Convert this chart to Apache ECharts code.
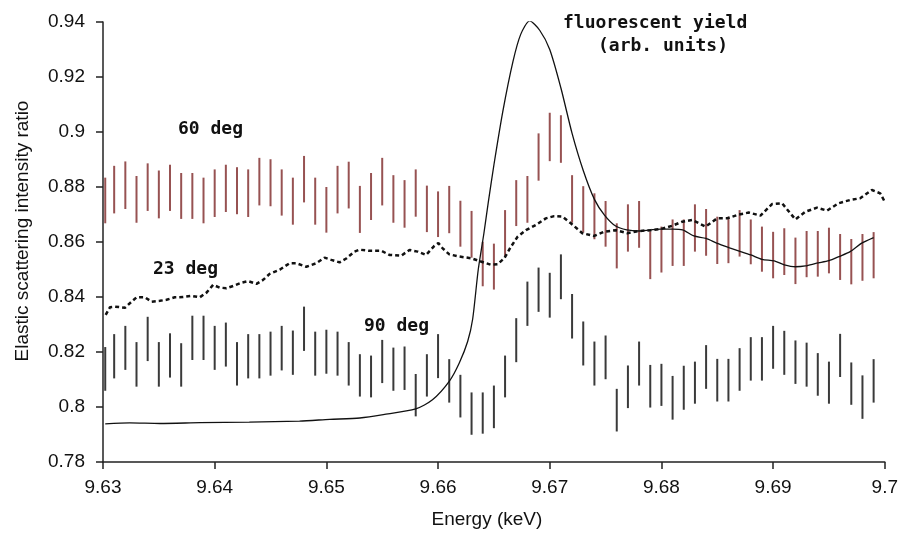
<!DOCTYPE html>
<html>
<head>
    <meta charset="utf-8"/>
    <title></title>
    <script src="https://cdn.jsdelivr.net/npm/echarts@6/dist/echarts.min.js"></script>
    <style>
        html, body { margin: 0; padding: 0; background: #fff; }
        #main { width: 901px; height: 540px; }
    </style>
</head>
<body>
<div id="main"></div>
<script type="text/javascript">
    /* energies of the error bars (keV) */
    var energy = [9.6302, 9.631, 9.632, 9.633, 9.634, 9.635, 9.636, 9.637, 9.638, 9.639,
        9.640, 9.641, 9.642, 9.643, 9.644, 9.645, 9.646, 9.647, 9.648, 9.649,
        9.650, 9.651, 9.652, 9.653, 9.654, 9.655, 9.656, 9.657, 9.658, 9.659,
        9.660, 9.661, 9.662, 9.663, 9.664, 9.665, 9.666, 9.667, 9.668, 9.669,
        9.670, 9.671, 9.672, 9.673, 9.674, 9.675, 9.676, 9.677, 9.678, 9.679,
        9.680, 9.681, 9.682, 9.683, 9.684, 9.685, 9.686, 9.687, 9.688, 9.689,
        9.690, 9.691, 9.692, 9.693, 9.694, 9.695, 9.696, 9.697, 9.698, 9.699];

    /* 60 deg: upper / lower end of each bar */
    var hi60 = [.8834, .8877, .8893, .8840, .8886, .8860, .8881, .8851, .8851, .8834,
        .8864, .8881, .8872, .8864, .8906, .8901, .8864, .8834, .8913, .8834,
        .8800, .8877, .8892, .8804, .8851, .8906, .8843, .8825, .8864, .8805,
        .8784, .8804, .8750, .8713, .8601, .8594, .8716, .8825, .8840, .8995,
        .9070, .9061, .8843, .8803, .8777, .8749, .8668, .8737, .8749, .8639,
        .8656, .8682, .8682, .8737, .8720, .8692, .8692, .8716, .8682, .8656,
        .8637, .8650, .8616, .8640, .8640, .8652, .8629, .8611, .8629, .8636];
    var lo60 = [.8668, .8704, .8720, .8670, .8713, .8686, .8713, .8684, .8684, .8668,
        .8691, .8709, .8701, .8691, .8733, .8730, .8696, .8663, .8744, .8663,
        .8634, .8704, .8722, .8633, .8680, .8733, .8670, .8652, .8692, .8636,
        .8618, .8632, .8583, .8543, .8439, .8427, .8547, .8658, .8670, .8823,
        .8894, .8888, .8670, .8634, .8610, .8583, .8504, .8565, .8579, .8465,
        .8489, .8513, .8513, .8565, .8550, .8520, .8523, .8547, .8519, .8492,
        .8468, .8480, .8447, .8472, .8474, .8486, .8462, .8446, .8459, .8468];

    /* 90 deg */
    var hi90 = [.8218, .8265, .8295, .8236, .8328, .8236, .8268, .8232, .8332, .8332,
        .8295, .8307, .8236, .8265, .8265, .8274, .8295, .8278, .8365, .8274,
        .8281, .8274, .8236, .8192, .8187, .8244, .8216, .8220, .8120, .8192,
        .8265, .8174, .8117, .8053, .8053, .8078, .8187, .8323, .8456, .8507,
        .8488, .8555, .8411, .8311, .8238, .8260, .8066, .8151, .8238, .8153,
        .8157, .8113, .8150, .8165, .8225, .8175, .8175, .8214, .8254, .8254,
        .8295, .8277, .8242, .8234, .8196, .8165, .8266, .8162, .8115, .8174];
    var lo90 = [.8059, .8104, .8135, .8074, .8167, .8074, .8107, .8074, .8171, .8171,
        .8135, .8147, .8078, .8104, .8104, .8114, .8133, .8117, .8204, .8114,
        .8121, .8114, .8078, .8038, .8035, .8087, .8059, .8062, .7966, .8038,
        .8105, .8016, .7962, .7899, .7903, .7923, .8035, .8163, .8295, .8346,
        .8325, .8392, .8249, .8151, .8078, .8101, .7911, .7996, .8078, .7998,
        .8004, .7954, .7990, .8012, .8066, .8020, .8020, .8059, .8096, .8096,
        .8139, .8117, .8084, .8074, .8041, .8012, .8109, .8008, .7957, .8016];

    /* 23 deg (dotted line) */
    var e23 = [9.63024, 9.63063, 9.63107, 9.63197, 9.63256, 9.63301, 9.63375, 9.63435, 9.63509, 9.63569,
        9.63643, 9.63718, 9.63793, 9.63867, 9.63927, 9.63986, 9.64046, 9.64105, 9.64165, 9.6424,
        9.64299, 9.64374, 9.64433, 9.64492, 9.64582, 9.64671, 9.64731, 9.6482, 9.6491, 9.64984,
        9.65044, 9.65118, 9.65178, 9.65252, 9.65297, 9.65386, 9.65491, 9.65565, 9.65669, 9.65744,
        9.65818, 9.65893, 9.65967, 9.66003, 9.66041, 9.66101, 9.66191, 9.66295, 9.66384, 9.66474,
        9.66533, 9.66593, 9.66653, 9.66712, 9.66787, 9.66876, 9.66965, 9.6704, 9.67114, 9.67189,
        9.67292, 9.67397, 9.67486, 9.67591, 9.67695, 9.67799, 9.67904, 9.67993, 9.68097, 9.68186,
        9.68276, 9.68395, 9.68499, 9.68588, 9.68693, 9.68782, 9.68887, 9.6899, 9.6908, 9.69155,
        9.692, 9.69289, 9.69393, 9.69482, 9.69587, 9.69691, 9.6978, 9.69884, 9.69959, 9.7];
    var v23 = [.8335, .8363, .8365, .8361, .8383, .8399, .8399, .8383, .8386, .8390,
        .8399, .8400, .8404, .8399, .8416, .8444, .8434, .8432, .8440, .8452,
        .8458, .8448, .8462, .8484, .8499, .8523, .8523, .8510, .8523, .8543,
        .8535, .8526, .8540, .8565, .8572, .8568, .8568, .8553, .8550, .8571,
        .8565, .8553, .8586, .8596, .8577, .8555, .8547, .8541, .8529, .8517,
        .8519, .8541, .8583, .8619, .8643, .8662, .8686, .8694, .8692, .8668,
        .8632, .8622, .8637, .8643, .8632, .8640, .8643, .8647, .8659, .8674,
        .8680, .8656, .8686, .8686, .8700, .8707, .8696, .8738, .8741, .8704,
        .8682, .8710, .8725, .8714, .8741, .8753, .8759, .8789, .8777, .8746];

    /* fluorescent yield (arb. units, drawn on the same scale) */
    var eFl = [9.6302, 9.6324, 9.6351, 9.6387, 9.6431, 9.6476, 9.6503, 9.6530, 9.6551, 9.6580,
        9.6595, 9.6610, 9.6619, 9.66265, 9.6631, 9.6636, 9.6641, 9.6645, 9.6650, 9.6658,
        9.6667, 9.6674, 9.6682, 9.6691, 9.6700, 9.6710, 9.6720, 9.6730, 9.6740, 9.6749,
        9.6759, 9.6769, 9.6780, 9.6790, 9.6799, 9.6810, 9.6819, 9.6829, 9.6840, 9.6850,
        9.6861, 9.6869, 9.6880, 9.6890, 9.6901, 9.6910, 9.6920, 9.6929, 9.6939, 9.6950,
        9.6959, 9.6969, 9.6979, 9.6990];
    var vFl = [.7939, .7942, .7940, .7943, .7945, .7949, .7955, .7960, .7972, .7993,
        .8026, .8093, .8160, .8238, .8320, .8500, .8630, .8745, .8880, .9075,
        .9255, .9355, .9404, .9370, .9300, .9160, .8995, .8860, .8755, .8698,
        .8658, .8644, .8640, .8644, .8647, .8647, .8644, .8622, .8613, .8595,
        .8579, .8568, .8553, .8537, .8531, .8517, .8510, .8513, .8523, .8532,
        .8547, .8565, .8595, .8616];

    var chart = echarts.init(document.getElementById('main'));

    function pairs(xs, ys) {
        var out = [];
        for (var i = 0; i < xs.length; i++) out.push([xs[i], ys[i]]);
        return out;
    }
    function bars(lo, hi) {
        var out = [];
        for (var i = 0; i < energy.length; i++) out.push([energy[i], lo[i], hi[i]]);
        return out;
    }
    function errorBar(color) {
        return function (params, api) {
            var a = api.coord([api.value(0), api.value(1)]);
            var b = api.coord([api.value(0), api.value(2)]);
            return {
                type: 'line',
                shape: {x1: a[0], y1: a[1], x2: b[0], y2: b[1]},
                style: {stroke: color, lineWidth: 2}
            };
        };
    }

    var labelFont = 'bold 18px "DejaVu Sans Mono"';

    var option = {
        animation: false,
        backgroundColor: '#fff',
        grid: {left: 103, right: 15, top: 22, bottom: 78},
        xAxis: {
            type: 'value',
            min: 9.63, max: 9.7, interval: 0.01,
            name: 'Energy (keV)',
            nameLocation: 'middle',
            nameGap: 48,
            nameTextStyle: {fontFamily: 'Liberation Sans', fontSize: 19, color: '#111', padding: [0, 14, 0, 0]},
            axisLine: {lineStyle: {color: '#222', width: 1.5}},
            axisTick: {length: 7, lineStyle: {color: '#222', width: 1.5}},
            axisLabel: {margin: 16, fontFamily: 'Liberation Sans', fontSize: 19, color: '#111'},
            splitLine: {show: false}
        },
        yAxis: {
            type: 'value',
            min: 0.78, max: 0.94, interval: 0.02,
            name: 'Elastic scattering intensity ratio',
            nameLocation: 'middle',
            nameGap: 71,
            nameTextStyle: {fontFamily: 'Liberation Sans', fontSize: 19, color: '#111', padding: [0, 0, 0, 22]},
            axisLine: {show: true, lineStyle: {color: '#222', width: 1.5}},
            axisTick: {show: true, length: 7, lineStyle: {color: '#222', width: 1.5}},
            axisLabel: {margin: 18, fontFamily: 'Liberation Sans', fontSize: 19, color: '#111'},
            splitLine: {show: false}
        },
        graphic: [
            {type: 'text', left: 178, top: 120, style: {text: '60 deg', font: labelFont, fill: '#111'}},
            {type: 'text', left: 153, top: 260, style: {text: '23 deg', font: labelFont, fill: '#111'}},
            {type: 'text', left: 364, top: 317, style: {text: '90 deg', font: labelFont, fill: '#111'}},
            {type: 'text', left: 563, top: 14, style: {text: 'fluorescent yield', font: labelFont, fill: '#111'}},
            {type: 'text', left: 598, top: 37, style: {text: '(arb. units)', font: labelFont, fill: '#111'}}
        ],
        series: [
            {
                name: '60 deg', type: 'custom',
                renderItem: errorBar('#975252'),
                encode: {x: 0, y: [1, 2]},
                data: bars(lo60, hi60)
            },
            {
                name: '90 deg', type: 'custom',
                renderItem: errorBar('#3a3a3a'),
                encode: {x: 0, y: [1, 2]},
                data: bars(lo90, hi90)
            },
            {
                name: '23 deg', type: 'line',
                showSymbol: false,
                lineStyle: {color: '#111', width: 2.5, type: [4, 3]},
                data: pairs(e23, v23)
            },
            {
                name: 'fluorescent yield', type: 'line',
                showSymbol: false,
                smooth: 0.25,
                lineStyle: {color: '#111', width: 1.3},
                data: pairs(eFl, vFl)
            }
        ]
    };

    chart.setOption(option);
</script>
</body>
</html>
